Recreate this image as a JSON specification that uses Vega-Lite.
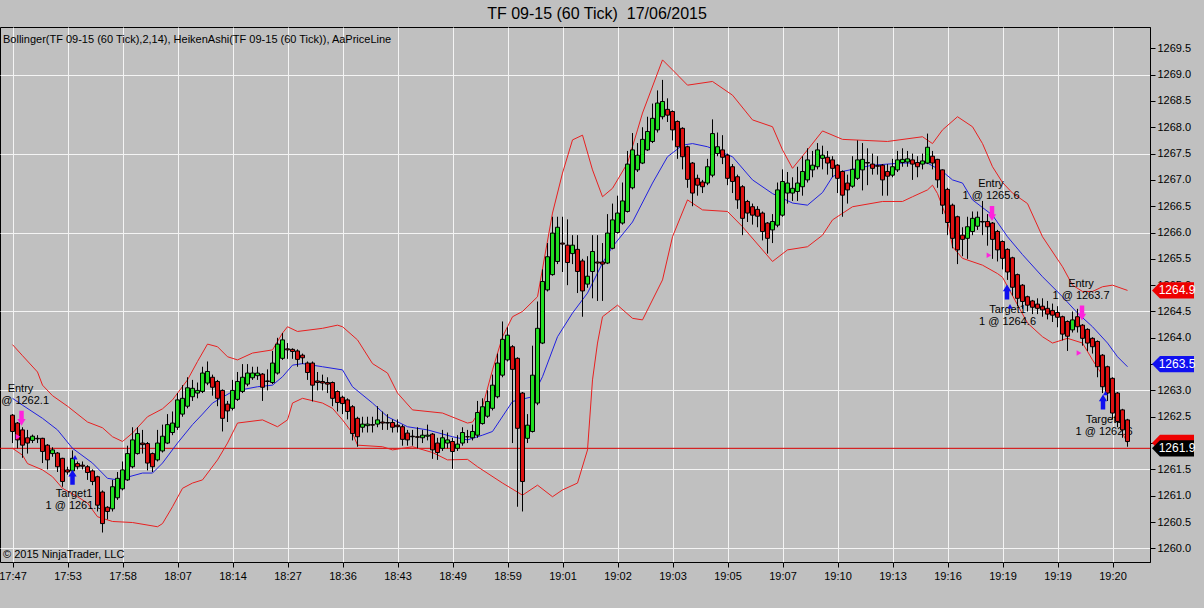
{
  "$schema": "https://vega.github.io/schema/vega-lite/v6.json",
  "autosize": {"type": "none"},
  "width": 1150,
  "height": 535,
  "padding": {"left": 0, "top": 27, "right": 54, "bottom": 46},
  "background": "#C0C0C0",
  "title": {
    "text": "TF 09-15 (60 Tick)\u00a0 17/06/2015",
    "font": "Liberation Sans", "fontSize": 16, "fontWeight": "normal",
    "color": "black", "dx": 22, "offset": 5
  },
  "datasets": {
    "ha": [
      {"i":0,"o":1262.53,"h":1262.55,"l":1262.0,"c":1262.22},
      {"i":1,"o":1262.38,"h":1262.40,"l":1261.90,"c":1262.06},
      {"i":2,"o":1262.25,"h":1262.30,"l":1261.72,"c":1261.96},
      {"i":3,"o":1262.10,"h":1262.25,"l":1261.80,"c":1262.00},
      {"i":4,"o":1262.05,"h":1262.16,"l":1262.00,"c":1262.13},
      {"i":5,"o":1262.09,"h":1262.15,"l":1262.00,"c":1262.08},
      {"i":6,"o":1262.09,"h":1262.10,"l":1261.62,"c":1261.84},
      {"i":7,"o":1261.96,"h":1261.98,"l":1261.50,"c":1261.68},
      {"i":8,"o":1261.80,"h":1261.92,"l":1261.74,"c":1261.87},
      {"i":9,"o":1261.81,"h":1261.83,"l":1261.45,"c":1261.55},
      {"i":10,"o":1261.71,"h":1261.72,"l":1261.17,"c":1261.27},
      {"i":11,"o":1261.49,"h":1261.55,"l":1261.40,"c":1261.45},
      {"i":12,"o":1261.47,"h":1261.86,"l":1261.45,"c":1261.71},
      {"i":13,"o":1261.61,"h":1261.65,"l":1261.50,"c":1261.55},
      {"i":14,"o":1261.58,"h":1261.65,"l":1261.50,"c":1261.56},
      {"i":15,"o":1261.55,"h":1261.58,"l":1261.30,"c":1261.44},
      {"i":16,"o":1261.47,"h":1261.50,"l":1261.20,"c":1261.27},
      {"i":17,"o":1261.36,"h":1261.38,"l":1260.70,"c":1260.82},
      {"i":18,"o":1261.07,"h":1261.10,"l":1260.30,"c":1260.47},
      {"i":19,"o":1260.78,"h":1260.80,"l":1260.55,"c":1260.70},
      {"i":20,"o":1260.75,"h":1261.30,"l":1260.70,"c":1261.17},
      {"i":21,"o":1260.96,"h":1261.45,"l":1260.92,"c":1261.33},
      {"i":22,"o":1261.13,"h":1261.65,"l":1261.10,"c":1261.49},
      {"i":23,"o":1261.30,"h":1261.95,"l":1261.28,"c":1261.80},
      {"i":24,"o":1261.55,"h":1262.30,"l":1261.52,"c":1262.06},
      {"i":25,"o":1261.80,"h":1262.30,"l":1261.78,"c":1262.18},
      {"i":26,"o":1262.00,"h":1262.25,"l":1261.80,"c":1261.97},
      {"i":27,"o":1261.99,"h":1262.02,"l":1261.48,"c":1261.62},
      {"i":28,"o":1261.80,"h":1261.82,"l":1261.45,"c":1261.55},
      {"i":29,"o":1261.68,"h":1262.25,"l":1261.65,"c":1262.00},
      {"i":30,"o":1261.85,"h":1262.35,"l":1261.82,"c":1262.13},
      {"i":31,"o":1262.00,"h":1262.55,"l":1261.98,"c":1262.35},
      {"i":32,"o":1262.20,"h":1262.60,"l":1262.15,"c":1262.38},
      {"i":33,"o":1262.30,"h":1262.95,"l":1262.25,"c":1262.82},
      {"i":34,"o":1262.55,"h":1263.10,"l":1262.50,"c":1262.85},
      {"i":35,"o":1262.70,"h":1263.25,"l":1262.66,"c":1263.05},
      {"i":36,"o":1262.88,"h":1263.20,"l":1262.80,"c":1263.04},
      {"i":37,"o":1262.95,"h":1263.15,"l":1262.85,"c":1263.00},
      {"i":38,"o":1262.98,"h":1263.45,"l":1262.95,"c":1263.33},
      {"i":39,"o":1263.14,"h":1263.55,"l":1263.10,"c":1263.36},
      {"i":40,"o":1263.25,"h":1263.30,"l":1262.90,"c":1263.06},
      {"i":41,"o":1263.17,"h":1263.20,"l":1262.70,"c":1262.85},
      {"i":42,"o":1263.00,"h":1263.02,"l":1262.22,"c":1262.47},
      {"i":43,"o":1262.74,"h":1262.80,"l":1262.40,"c":1262.61},
      {"i":44,"o":1262.66,"h":1263.20,"l":1262.62,"c":1263.00},
      {"i":45,"o":1262.83,"h":1263.35,"l":1262.80,"c":1263.17},
      {"i":46,"o":1262.98,"h":1263.50,"l":1262.95,"c":1263.25},
      {"i":47,"o":1263.12,"h":1263.50,"l":1263.08,"c":1263.33},
      {"i":48,"o":1263.24,"h":1263.45,"l":1263.20,"c":1263.33},
      {"i":49,"o":1263.28,"h":1263.45,"l":1263.20,"c":1263.33},
      {"i":50,"o":1263.31,"h":1263.33,"l":1262.80,"c":1263.06},
      {"i":51,"o":1263.18,"h":1263.40,"l":1263.00,"c":1263.17},
      {"i":52,"o":1263.15,"h":1263.75,"l":1263.12,"c":1263.52},
      {"i":53,"o":1263.33,"h":1264.00,"l":1263.30,"c":1263.88},
      {"i":54,"o":1263.61,"h":1264.09,"l":1263.58,"c":1263.96},
      {"i":55,"o":1263.79,"h":1263.90,"l":1263.60,"c":1263.77},
      {"i":56,"o":1263.78,"h":1263.80,"l":1263.60,"c":1263.74},
      {"i":57,"o":1263.75,"h":1263.78,"l":1263.45,"c":1263.59},
      {"i":58,"o":1263.67,"h":1263.70,"l":1263.50,"c":1263.62},
      {"i":59,"o":1263.52,"h":1263.55,"l":1263.20,"c":1263.34},
      {"i":60,"o":1263.52,"h":1263.55,"l":1262.79,"c":1263.10},
      {"i":61,"o":1263.18,"h":1263.35,"l":1263.00,"c":1263.15},
      {"i":62,"o":1263.17,"h":1263.30,"l":1263.00,"c":1263.14},
      {"i":63,"o":1263.15,"h":1263.25,"l":1262.95,"c":1263.12},
      {"i":64,"o":1263.15,"h":1263.17,"l":1262.70,"c":1262.85},
      {"i":65,"o":1262.98,"h":1263.00,"l":1262.60,"c":1262.77},
      {"i":66,"o":1262.87,"h":1262.90,"l":1262.55,"c":1262.75},
      {"i":67,"o":1262.82,"h":1262.85,"l":1262.45,"c":1262.60},
      {"i":68,"o":1262.69,"h":1262.72,"l":1262.05,"c":1262.18},
      {"i":69,"o":1262.47,"h":1262.50,"l":1261.93,"c":1262.12},
      {"i":70,"o":1262.30,"h":1262.50,"l":1262.20,"c":1262.36},
      {"i":71,"o":1262.33,"h":1262.50,"l":1262.20,"c":1262.36},
      {"i":72,"o":1262.35,"h":1262.50,"l":1262.20,"c":1262.34},
      {"i":73,"o":1262.36,"h":1262.70,"l":1262.30,"c":1262.44},
      {"i":74,"o":1262.40,"h":1262.60,"l":1262.25,"c":1262.38},
      {"i":75,"o":1262.39,"h":1262.55,"l":1262.25,"c":1262.38},
      {"i":76,"o":1262.39,"h":1262.45,"l":1262.20,"c":1262.30},
      {"i":77,"o":1262.34,"h":1262.45,"l":1262.20,"c":1262.31},
      {"i":78,"o":1262.31,"h":1262.35,"l":1261.95,"c":1262.07},
      {"i":79,"o":1262.19,"h":1262.25,"l":1261.95,"c":1262.06},
      {"i":80,"o":1262.13,"h":1262.25,"l":1261.95,"c":1262.12},
      {"i":81,"o":1262.12,"h":1262.30,"l":1261.90,"c":1262.11},
      {"i":82,"o":1262.10,"h":1262.25,"l":1262.00,"c":1262.15},
      {"i":83,"o":1262.13,"h":1262.35,"l":1262.05,"c":1262.15},
      {"i":84,"o":1262.17,"h":1262.19,"l":1261.70,"c":1261.87},
      {"i":85,"o":1262.00,"h":1262.10,"l":1261.68,"c":1261.82},
      {"i":86,"o":1261.90,"h":1262.25,"l":1261.85,"c":1262.10},
      {"i":87,"o":1262.00,"h":1262.20,"l":1261.90,"c":1262.06},
      {"i":88,"o":1262.03,"h":1262.10,"l":1261.51,"c":1261.84},
      {"i":89,"o":1261.90,"h":1262.15,"l":1261.85,"c":1261.98},
      {"i":90,"o":1262.00,"h":1262.30,"l":1261.95,"c":1262.20},
      {"i":91,"o":1262.12,"h":1262.25,"l":1262.00,"c":1262.12},
      {"i":92,"o":1262.10,"h":1262.35,"l":1262.05,"c":1262.22},
      {"i":93,"o":1262.15,"h":1262.80,"l":1262.10,"c":1262.58},
      {"i":94,"o":1262.37,"h":1262.85,"l":1262.35,"c":1262.69},
      {"i":95,"o":1262.51,"h":1263.00,"l":1262.48,"c":1262.79},
      {"i":96,"o":1262.66,"h":1263.30,"l":1262.62,"c":1263.10},
      {"i":97,"o":1262.88,"h":1263.70,"l":1262.85,"c":1263.52},
      {"i":98,"o":1263.29,"h":1264.31,"l":1263.25,"c":1263.97},
      {"i":99,"o":1263.58,"h":1264.20,"l":1263.55,"c":1264.05},
      {"i":100,"o":1263.83,"h":1263.86,"l":1262.00,"c":1263.40},
      {"i":101,"o":1263.61,"h":1263.63,"l":1260.79,"c":1262.28},
      {"i":102,"o":1262.95,"h":1262.97,"l":1260.70,"c":1261.27},
      {"i":103,"o":1262.09,"h":1262.55,"l":1262.00,"c":1262.34},
      {"i":104,"o":1262.22,"h":1263.85,"l":1262.20,"c":1263.29},
      {"i":105,"o":1262.76,"h":1264.69,"l":1262.72,"c":1264.18},
      {"i":106,"o":1263.90,"h":1265.30,"l":1263.88,"c":1265.07},
      {"i":107,"o":1264.91,"h":1265.80,"l":1264.88,"c":1265.54},
      {"i":108,"o":1265.20,"h":1266.30,"l":1265.18,"c":1265.99},
      {"i":109,"o":1265.45,"h":1266.30,"l":1265.40,"c":1266.10},
      {"i":110,"o":1265.80,"h":1266.30,"l":1265.25,"c":1265.78},
      {"i":111,"o":1265.76,"h":1266.25,"l":1265.00,"c":1265.43},
      {"i":112,"o":1265.60,"h":1265.95,"l":1265.40,"c":1265.76},
      {"i":113,"o":1265.68,"h":1265.95,"l":1264.85,"c":1265.26},
      {"i":114,"o":1265.46,"h":1265.50,"l":1264.40,"c":1264.89},
      {"i":115,"o":1265.02,"h":1265.55,"l":1264.95,"c":1265.17},
      {"i":116,"o":1265.26,"h":1265.95,"l":1264.75,"c":1265.64},
      {"i":117,"o":1265.44,"h":1265.95,"l":1264.70,"c":1265.42},
      {"i":118,"o":1265.44,"h":1265.80,"l":1264.70,"c":1265.40},
      {"i":119,"o":1265.42,"h":1266.35,"l":1265.40,"c":1265.99},
      {"i":120,"o":1265.70,"h":1266.55,"l":1265.68,"c":1266.24},
      {"i":121,"o":1266.00,"h":1266.70,"l":1265.98,"c":1266.37},
      {"i":122,"o":1266.18,"h":1266.95,"l":1266.15,"c":1266.60},
      {"i":123,"o":1266.40,"h":1267.55,"l":1266.38,"c":1267.30},
      {"i":124,"o":1266.85,"h":1267.89,"l":1266.82,"c":1267.57},
      {"i":125,"o":1267.19,"h":1267.70,"l":1267.15,"c":1267.47},
      {"i":126,"o":1267.32,"h":1268.00,"l":1267.30,"c":1267.77},
      {"i":127,"o":1267.57,"h":1268.20,"l":1267.55,"c":1267.92},
      {"i":128,"o":1267.73,"h":1268.45,"l":1267.70,"c":1268.17},
      {"i":129,"o":1267.95,"h":1268.70,"l":1267.90,"c":1268.46},
      {"i":130,"o":1268.20,"h":1268.90,"l":1268.15,"c":1268.49},
      {"i":131,"o":1268.34,"h":1268.55,"l":1268.10,"c":1268.23},
      {"i":132,"o":1268.30,"h":1268.32,"l":1267.75,"c":1267.95},
      {"i":133,"o":1268.11,"h":1268.13,"l":1267.40,"c":1267.63},
      {"i":134,"o":1267.98,"h":1268.00,"l":1267.20,"c":1267.44},
      {"i":135,"o":1267.63,"h":1267.65,"l":1266.85,"c":1267.01},
      {"i":136,"o":1267.32,"h":1267.34,"l":1266.50,"c":1266.75},
      {"i":137,"o":1267.03,"h":1267.10,"l":1266.70,"c":1266.90},
      {"i":138,"o":1266.96,"h":1267.00,"l":1266.75,"c":1266.87},
      {"i":139,"o":1266.94,"h":1267.40,"l":1266.90,"c":1267.25},
      {"i":140,"o":1267.09,"h":1268.15,"l":1267.05,"c":1267.88},
      {"i":141,"o":1267.50,"h":1267.90,"l":1267.45,"c":1267.63},
      {"i":142,"o":1267.57,"h":1267.85,"l":1267.30,"c":1267.43},
      {"i":143,"o":1267.47,"h":1267.50,"l":1266.90,"c":1267.03},
      {"i":144,"o":1267.25,"h":1267.30,"l":1266.75,"c":1266.97},
      {"i":145,"o":1267.06,"h":1267.10,"l":1266.45,"c":1266.62},
      {"i":146,"o":1266.87,"h":1266.90,"l":1265.95,"c":1266.27},
      {"i":147,"o":1266.59,"h":1266.62,"l":1266.20,"c":1266.37},
      {"i":148,"o":1266.49,"h":1266.55,"l":1266.15,"c":1266.33},
      {"i":149,"o":1266.44,"h":1266.50,"l":1266.10,"c":1266.31},
      {"i":150,"o":1266.37,"h":1266.40,"l":1265.85,"c":1266.02},
      {"i":151,"o":1266.18,"h":1266.20,"l":1265.60,"c":1265.89},
      {"i":152,"o":1266.05,"h":1266.35,"l":1265.80,"c":1266.21},
      {"i":153,"o":1266.14,"h":1266.95,"l":1266.10,"c":1266.81},
      {"i":154,"o":1266.33,"h":1267.20,"l":1266.30,"c":1266.97},
      {"i":155,"o":1266.75,"h":1267.15,"l":1266.55,"c":1266.94},
      {"i":156,"o":1266.75,"h":1267.05,"l":1266.60,"c":1266.84},
      {"i":157,"o":1266.78,"h":1267.25,"l":1266.60,"c":1266.94},
      {"i":158,"o":1266.87,"h":1267.45,"l":1266.70,"c":1267.16},
      {"i":159,"o":1267.00,"h":1267.60,"l":1266.95,"c":1267.38},
      {"i":160,"o":1267.19,"h":1267.55,"l":1267.05,"c":1267.28},
      {"i":161,"o":1267.25,"h":1267.70,"l":1267.20,"c":1267.57},
      {"i":162,"o":1267.41,"h":1267.65,"l":1267.20,"c":1267.47},
      {"i":163,"o":1267.43,"h":1267.55,"l":1267.10,"c":1267.32},
      {"i":164,"o":1267.38,"h":1267.45,"l":1267.05,"c":1267.22},
      {"i":165,"o":1267.28,"h":1267.30,"l":1266.75,"c":1267.03},
      {"i":166,"o":1267.16,"h":1267.18,"l":1266.30,"c":1266.71},
      {"i":167,"o":1266.94,"h":1267.10,"l":1266.55,"c":1266.81},
      {"i":168,"o":1266.88,"h":1267.45,"l":1266.85,"c":1267.20},
      {"i":169,"o":1267.03,"h":1267.75,"l":1267.00,"c":1267.38},
      {"i":170,"o":1267.19,"h":1267.70,"l":1266.80,"c":1267.39},
      {"i":171,"o":1267.33,"h":1267.60,"l":1266.90,"c":1267.32},
      {"i":172,"o":1267.30,"h":1267.50,"l":1267.10,"c":1267.22},
      {"i":173,"o":1267.27,"h":1267.45,"l":1267.10,"c":1267.26},
      {"i":174,"o":1267.28,"h":1267.30,"l":1266.70,"c":1267.00},
      {"i":175,"o":1267.16,"h":1267.30,"l":1266.70,"c":1267.07},
      {"i":176,"o":1267.09,"h":1267.40,"l":1267.05,"c":1267.25},
      {"i":177,"o":1267.19,"h":1267.55,"l":1267.15,"c":1267.38},
      {"i":178,"o":1267.33,"h":1267.60,"l":1267.25,"c":1267.39},
      {"i":179,"o":1267.34,"h":1267.55,"l":1267.25,"c":1267.40},
      {"i":180,"o":1267.38,"h":1267.50,"l":1267.00,"c":1267.30},
      {"i":181,"o":1267.33,"h":1267.45,"l":1267.05,"c":1267.25},
      {"i":182,"o":1267.30,"h":1267.50,"l":1267.20,"c":1267.36},
      {"i":183,"o":1267.32,"h":1267.88,"l":1267.30,"c":1267.62},
      {"i":184,"o":1267.45,"h":1267.55,"l":1267.20,"c":1267.32},
      {"i":185,"o":1267.39,"h":1267.40,"l":1266.85,"c":1267.00},
      {"i":186,"o":1267.19,"h":1267.20,"l":1266.35,"c":1266.52},
      {"i":187,"o":1266.82,"h":1266.85,"l":1265.95,"c":1266.19},
      {"i":188,"o":1266.52,"h":1266.55,"l":1265.70,"c":1265.89},
      {"i":189,"o":1266.30,"h":1266.32,"l":1265.40,"c":1265.67},
      {"i":190,"o":1265.95,"h":1266.10,"l":1265.55,"c":1265.87},
      {"i":191,"o":1265.89,"h":1266.30,"l":1265.50,"c":1266.11},
      {"i":192,"o":1266.02,"h":1266.40,"l":1265.95,"c":1266.27},
      {"i":193,"o":1266.12,"h":1266.40,"l":1266.05,"c":1266.29},
      {"i":194,"o":1266.21,"h":1266.60,"l":1265.95,"c":1266.20},
      {"i":195,"o":1266.21,"h":1266.35,"l":1265.75,"c":1266.11},
      {"i":196,"o":1266.18,"h":1266.20,"l":1265.50,"c":1265.87},
      {"i":197,"o":1266.02,"h":1266.05,"l":1265.45,"c":1265.67},
      {"i":198,"o":1265.83,"h":1265.85,"l":1265.30,"c":1265.51},
      {"i":199,"o":1265.68,"h":1265.70,"l":1265.10,"c":1265.25},
      {"i":200,"o":1265.52,"h":1265.54,"l":1264.80,"c":1264.96},
      {"i":201,"o":1265.20,"h":1265.22,"l":1264.60,"c":1264.75},
      {"i":202,"o":1265.00,"h":1265.02,"l":1264.55,"c":1264.69},
      {"i":203,"o":1264.78,"h":1264.80,"l":1264.50,"c":1264.62},
      {"i":204,"o":1264.70,"h":1264.72,"l":1264.45,"c":1264.58},
      {"i":205,"o":1264.64,"h":1264.75,"l":1264.45,"c":1264.56},
      {"i":206,"o":1264.60,"h":1264.75,"l":1264.40,"c":1264.53},
      {"i":207,"o":1264.56,"h":1264.70,"l":1264.35,"c":1264.45},
      {"i":208,"o":1264.52,"h":1264.65,"l":1264.30,"c":1264.43},
      {"i":209,"o":1264.48,"h":1264.60,"l":1264.20,"c":1264.39},
      {"i":210,"o":1264.40,"h":1264.42,"l":1263.95,"c":1264.07},
      {"i":211,"o":1264.31,"h":1264.33,"l":1263.75,"c":1264.03},
      {"i":212,"o":1264.15,"h":1264.50,"l":1264.10,"c":1264.34},
      {"i":213,"o":1264.40,"h":1264.55,"l":1264.10,"c":1264.21},
      {"i":214,"o":1264.24,"h":1264.26,"l":1263.85,"c":1263.99},
      {"i":215,"o":1264.16,"h":1264.18,"l":1263.75,"c":1263.90},
      {"i":216,"o":1263.99,"h":1264.01,"l":1263.70,"c":1263.83},
      {"i":217,"o":1263.93,"h":1263.95,"l":1263.25,"c":1263.45},
      {"i":218,"o":1263.67,"h":1263.69,"l":1262.95,"c":1263.07},
      {"i":219,"o":1263.45,"h":1263.47,"l":1262.80,"c":1262.95},
      {"i":220,"o":1263.23,"h":1263.25,"l":1262.45,"c":1262.57},
      {"i":221,"o":1262.95,"h":1262.97,"l":1262.30,"c":1262.41},
      {"i":222,"o":1262.63,"h":1262.65,"l":1262.10,"c":1262.25},
      {"i":223,"o":1262.44,"h":1262.46,"l":1261.93,"c":1262.03}
    ],
    "bb": [
      {"b":"u","i":0,"v":1263.87},{"b":"u","i":2,"v":1263.66},{"b":"u","i":5,"v":1263.35},{"b":"u","i":6,"v":1263.10},
      {"b":"u","i":8,"v":1262.90},{"b":"u","i":11,"v":1262.70},{"b":"u","i":15,"v":1262.40},{"b":"u","i":18,"v":1262.29},
      {"b":"u","i":20,"v":1262.12},{"b":"u","i":22,"v":1262.03},{"b":"u","i":24,"v":1262.19},{"b":"u","i":27,"v":1262.50},
      {"b":"u","i":30,"v":1262.65},{"b":"u","i":32,"v":1262.82},{"b":"u","i":35,"v":1263.20},{"b":"u","i":37,"v":1263.55},
      {"b":"u","i":39,"v":1263.88},{"b":"u","i":41,"v":1263.83},{"b":"u","i":43,"v":1263.64},{"b":"u","i":45,"v":1263.58},
      {"b":"u","i":48,"v":1263.71},{"b":"u","i":52,"v":1263.77},{"b":"u","i":54,"v":1264.09},{"b":"u","i":55,"v":1264.21},
      {"b":"u","i":57,"v":1264.12},{"b":"u","i":62,"v":1264.18},{"b":"u","i":65,"v":1264.24},{"b":"u","i":66,"v":1264.21},
      {"b":"u","i":69,"v":1263.96},{"b":"u","i":72,"v":1263.51},{"b":"u","i":75,"v":1263.33},{"b":"u","i":77,"v":1262.95},
      {"b":"u","i":80,"v":1262.63},{"b":"u","i":86,"v":1262.57},{"b":"u","i":91,"v":1262.38},{"b":"u","i":92,"v":1262.40},
      {"b":"u","i":94,"v":1262.69},{"b":"u","i":96,"v":1263.39},{"b":"u","i":98,"v":1264.02},{"b":"u","i":100,"v":1264.40},
      {"b":"u","i":102,"v":1264.50},{"b":"u","i":105,"v":1264.78},{"b":"u","i":108,"v":1266.37},{"b":"u","i":110,"v":1267.13},
      {"b":"u","i":112,"v":1267.76},{"b":"u","i":114,"v":1267.85},{"b":"u","i":116,"v":1267.19},{"b":"u","i":118,"v":1266.68},
      {"b":"u","i":120,"v":1266.84},{"b":"u","i":123,"v":1267.32},{"b":"u","i":125,"v":1267.95},{"b":"u","i":126,"v":1268.27},
      {"b":"u","i":130,"v":1269.28},{"b":"u","i":132,"v":1269.09},{"b":"u","i":135,"v":1268.80},{"b":"u","i":140,"v":1268.87},
      {"b":"u","i":144,"v":1268.61},{"b":"u","i":148,"v":1268.14},{"b":"u","i":152,"v":1268.01},{"b":"u","i":154,"v":1267.57},
      {"b":"u","i":156,"v":1267.22},{"b":"u","i":159,"v":1267.57},{"b":"u","i":162,"v":1267.93},{"b":"u","i":166,"v":1267.77},
      {"b":"u","i":175,"v":1267.73},{"b":"u","i":182,"v":1267.82},{"b":"u","i":184,"v":1267.69},{"b":"u","i":186,"v":1267.95},
      {"b":"u","i":189,"v":1268.20},{"b":"u","i":192,"v":1268.01},{"b":"u","i":194,"v":1267.69},{"b":"u","i":196,"v":1267.25},
      {"b":"u","i":198,"v":1266.95},{"b":"u","i":200,"v":1266.75},{"b":"u","i":203,"v":1266.55},{"b":"u","i":206,"v":1265.92},
      {"b":"u","i":210,"v":1265.35},{"b":"u","i":212,"v":1265.00},{"b":"u","i":214,"v":1264.88},{"b":"u","i":216,"v":1264.88},
      {"b":"u","i":218,"v":1264.97},{"b":"u","i":220,"v":1265.00},{"b":"u","i":223,"v":1264.90},
      {"b":"m","i":0,"v":1262.85},{"b":"m","i":2,"v":1262.72},{"b":"m","i":6,"v":1262.47},{"b":"m","i":9,"v":1262.25},
      {"b":"m","i":12,"v":1261.90},{"b":"m","i":16,"v":1261.62},{"b":"m","i":19,"v":1261.33},{"b":"m","i":21,"v":1261.30},
      {"b":"m","i":26,"v":1261.43},{"b":"m","i":28,"v":1261.43},{"b":"m","i":30,"v":1261.62},{"b":"m","i":33,"v":1262.00},
      {"b":"m","i":36,"v":1262.35},{"b":"m","i":38,"v":1262.55},{"b":"m","i":40,"v":1262.76},{"b":"m","i":44,"v":1262.98},
      {"b":"m","i":49,"v":1263.07},{"b":"m","i":52,"v":1263.10},{"b":"m","i":54,"v":1263.26},{"b":"m","i":56,"v":1263.48},
      {"b":"m","i":58,"v":1263.51},{"b":"m","i":62,"v":1263.45},{"b":"m","i":66,"v":1263.39},{"b":"m","i":68,"v":1263.07},
      {"b":"m","i":72,"v":1262.76},{"b":"m","i":75,"v":1262.50},{"b":"m","i":79,"v":1262.31},{"b":"m","i":83,"v":1262.25},
      {"b":"m","i":88,"v":1262.12},{"b":"m","i":91,"v":1262.06},{"b":"m","i":94,"v":1262.15},{"b":"m","i":96,"v":1262.22},
      {"b":"m","i":100,"v":1262.79},{"b":"m","i":104,"v":1262.88},{"b":"m","i":106,"v":1263.26},{"b":"m","i":109,"v":1264.02},
      {"b":"m","i":112,"v":1264.47},{"b":"m","i":115,"v":1264.85},{"b":"m","i":118,"v":1265.42},{"b":"m","i":120,"v":1265.73},
      {"b":"m","i":124,"v":1266.20},{"b":"m","i":128,"v":1266.94},{"b":"m","i":131,"v":1267.44},{"b":"m","i":134,"v":1267.66},
      {"b":"m","i":136,"v":1267.69},{"b":"m","i":139,"v":1267.63},{"b":"m","i":144,"v":1267.44},{"b":"m","i":148,"v":1267.00},
      {"b":"m","i":152,"v":1266.74},{"b":"m","i":156,"v":1266.56},{"b":"m","i":159,"v":1266.52},{"b":"m","i":162,"v":1266.76},
      {"b":"m","i":164,"v":1267.06},{"b":"m","i":166,"v":1267.16},{"b":"m","i":172,"v":1267.28},{"b":"m","i":178,"v":1267.32},
      {"b":"m","i":183,"v":1267.32},{"b":"m","i":186,"v":1267.16},{"b":"m","i":188,"v":1267.00},{"b":"m","i":190,"v":1266.94},
      {"b":"m","i":192,"v":1266.62},{"b":"m","i":196,"v":1266.33},{"b":"m","i":199,"v":1265.92},{"b":"m","i":202,"v":1265.58},
      {"b":"m","i":206,"v":1265.16},{"b":"m","i":210,"v":1264.78},{"b":"m","i":213,"v":1264.47},{"b":"m","i":216,"v":1264.21},
      {"b":"m","i":219,"v":1263.90},{"b":"m","i":221,"v":1263.64},{"b":"m","i":223,"v":1263.45},
      {"b":"d","i":0,"v":1261.90},{"b":"d","i":2,"v":1261.77},{"b":"d","i":3,"v":1261.61},{"b":"d","i":6,"v":1261.49},
      {"b":"d","i":8,"v":1261.36},{"b":"d","i":10,"v":1261.14},{"b":"d","i":13,"v":1260.98},{"b":"d","i":15,"v":1260.86},
      {"b":"d","i":17,"v":1260.60},{"b":"d","i":20,"v":1260.51},{"b":"d","i":24,"v":1260.49},{"b":"d","i":29,"v":1260.41},
      {"b":"d","i":30,"v":1260.47},{"b":"d","i":32,"v":1260.79},{"b":"d","i":34,"v":1261.14},{"b":"d","i":36,"v":1261.24},
      {"b":"d","i":38,"v":1261.30},{"b":"d","i":41,"v":1261.68},{"b":"d","i":43,"v":1262.00},{"b":"d","i":45,"v":1262.38},
      {"b":"d","i":50,"v":1262.44},{"b":"d","i":53,"v":1262.31},{"b":"d","i":55,"v":1262.44},{"b":"d","i":56,"v":1262.76},
      {"b":"d","i":58,"v":1262.85},{"b":"d","i":62,"v":1262.76},{"b":"d","i":64,"v":1262.66},{"b":"d","i":66,"v":1262.44},
      {"b":"d","i":68,"v":1262.19},{"b":"d","i":69,"v":1261.96},{"b":"d","i":74,"v":1261.93},{"b":"d","i":76,"v":1261.87},
      {"b":"d","i":80,"v":1261.93},{"b":"d","i":84,"v":1261.82},{"b":"d","i":87,"v":1261.68},{"b":"d","i":91,"v":1261.69},
      {"b":"d","i":93,"v":1261.55},{"b":"d","i":98,"v":1261.24},{"b":"d","i":102,"v":1261.01},{"b":"d","i":105,"v":1261.20},
      {"b":"d","i":108,"v":1260.98},{"b":"d","i":110,"v":1261.11},{"b":"d","i":113,"v":1261.24},{"b":"d","i":115,"v":1261.87},
      {"b":"d","i":116,"v":1263.20},{"b":"d","i":117,"v":1263.90},{"b":"d","i":118,"v":1264.40},{"b":"d","i":121,"v":1264.62},
      {"b":"d","i":124,"v":1264.37},{"b":"d","i":126,"v":1264.34},{"b":"d","i":130,"v":1265.10},{"b":"d","i":132,"v":1265.92},
      {"b":"d","i":135,"v":1266.62},{"b":"d","i":138,"v":1266.43},{"b":"d","i":143,"v":1266.40},{"b":"d","i":146,"v":1266.11},
      {"b":"d","i":150,"v":1265.67},{"b":"d","i":152,"v":1265.45},{"b":"d","i":155,"v":1265.67},{"b":"d","i":159,"v":1265.73},
      {"b":"d","i":162,"v":1265.95},{"b":"d","i":164,"v":1266.24},{"b":"d","i":168,"v":1266.49},{"b":"d","i":174,"v":1266.59},
      {"b":"d","i":178,"v":1266.59},{"b":"d","i":180,"v":1266.68},{"b":"d","i":183,"v":1266.81},{"b":"d","i":184,"v":1266.90},
      {"b":"d","i":185,"v":1266.74},{"b":"d","i":187,"v":1266.24},{"b":"d","i":188,"v":1265.73},{"b":"d","i":190,"v":1265.51},
      {"b":"d","i":194,"v":1265.38},{"b":"d","i":197,"v":1265.22},{"b":"d","i":198,"v":1265.15},{"b":"d","i":200,"v":1264.80},
      {"b":"d","i":203,"v":1264.28},{"b":"d","i":206,"v":1264.02},{"b":"d","i":208,"v":1263.90},{"b":"d","i":211,"v":1263.99},
      {"b":"d","i":214,"v":1263.90},{"b":"d","i":216,"v":1263.58},{"b":"d","i":219,"v":1263.14},{"b":"d","i":221,"v":1262.63},
      {"b":"d","i":222,"v":1262.19},{"b":"d","i":223,"v":1262.00}
    ],
    "notes": [
      {"i":1.6,"p":1263.03,"t":"Entry"},{"i":1.6,"p":1262.80,"t":"1 @ 1262.1"},
      {"i":12.3,"p":1261.03,"t":"Target1"},{"i":12.3,"p":1260.80,"t":"1 @ 1261.6"},
      {"i":195.7,"p":1266.92,"t":"Entry"},{"i":195.7,"p":1266.70,"t":"1 @ 1265.6"},
      {"i":199.0,"p":1264.53,"t":"Target1"},{"i":199.0,"p":1264.30,"t":"1 @ 1264.6"},
      {"i":213.7,"p":1265.02,"t":"Entry"},{"i":213.7,"p":1264.79,"t":"1 @ 1263.7"},
      {"i":218.3,"p":1262.44,"t":"Target1"},{"i":218.3,"p":1262.21,"t":"1 @ 1262.6"}
    ],
    "marks": [
      {"k":"entry","i":1.8,"p":1262.47},{"k":"entry","i":195.9,"p":1266.36},{"k":"entry","i":213.9,"p":1264.47},
      {"k":"target","i":12.0,"p":1261.35},{"k":"target","i":198.9,"p":1264.87},{"k":"target","i":218.1,"p":1262.78},
      {"k":"fill","i":1.1,"p":1262.12},{"k":"fill","i":195.3,"p":1265.57},{"k":"fill","i":213.3,"p":1263.71},
      {"k":"tick","i":12.5,"p":1261.73},{"k":"tick","i":199.5,"p":1264.60},{"k":"tick","i":218.6,"p":1262.95}
    ],
    "tags": [
      {"k":"u","p":1264.9,"t":"1264.9"},
      {"k":"m","p":1263.5,"t":"1263.5"},
      {"k":"d","p":1262.0,"t":""},
      {"k":"last","p":1261.9,"t":"1261.9"}
    ],
    "heads": [
      {"p":1269.66,"t":"Bollinger(TF 09-15 (60 Tick),2,14), HeikenAshi(TF 09-15 (60 Tick)), AaPriceLine"},
      {"p":1259.87,"t":"© 2015 NinjaTrader, LLC"}
    ]
  },
  "resolve": {"axis": {"x": "independent", "y": "independent"}},
  "layer": [
    {
      "data": {"values": [{}]},
      "mark": {"type": "rule", "color": "#D80000", "strokeWidth": 1},
      "encoding": {
        "y": {"datum": 1261.9, "type": "quantitative", "scale": {"domain": [1259.74, 1269.905], "nice": false, "zero": false}, "axis": null}
      }
    },
    {
      "data": {"name": "bb"},
      "transform": [{"filter": "datum.b == 'u'"}],
      "mark": {"type": "line", "color": "#E82020", "strokeWidth": 1},
      "encoding": {
        "x": {"field": "i", "type": "quantitative", "scale": {"domain": [-2.5, 227.5], "nice": false, "zero": false, "padding": 0}, "axis": null},
        "y": {"field": "v", "type": "quantitative", "scale": {"domain": [1259.74, 1269.905], "nice": false, "zero": false}, "axis": null}
      }
    },
    {
      "data": {"name": "bb"},
      "transform": [{"filter": "datum.b == 'd'"}],
      "mark": {"type": "line", "color": "#E82020", "strokeWidth": 1},
      "encoding": {
        "x": {"field": "i", "type": "quantitative", "scale": {"domain": [-2.5, 227.5], "nice": false, "zero": false, "padding": 0}, "axis": null},
        "y": {"field": "v", "type": "quantitative", "scale": {"domain": [1259.74, 1269.905], "nice": false, "zero": false}, "axis": null}
      }
    },
    {
      "data": {"name": "bb"},
      "transform": [{"filter": "datum.b == 'm'"}],
      "mark": {"type": "line", "color": "#2020E0", "strokeWidth": 1},
      "encoding": {
        "x": {"field": "i", "type": "quantitative", "scale": {"domain": [-2.5, 227.5], "nice": false, "zero": false, "padding": 0}, "axis": null},
        "y": {"field": "v", "type": "quantitative", "scale": {"domain": [1259.74, 1269.905], "nice": false, "zero": false}, "axis": null}
      }
    },
    {
      "data": {"name": "notes"},
      "mark": {"type": "text", "font": "Liberation Sans", "fontSize": 11, "color": "black", "align": "center", "baseline": "middle"},
      "encoding": {
        "x": {"field": "i", "type": "quantitative", "scale": {"domain": [-2.5, 227.5], "nice": false, "zero": false, "padding": 0}, "axis": null},
        "y": {"field": "p", "type": "quantitative", "scale": {"domain": [1259.74, 1269.905], "nice": false, "zero": false}, "axis": null},
        "text": {"field": "t"}
      }
    },
    {
      "data": {"name": "ha"},
      "mark": {"type": "rule", "color": "black", "strokeWidth": 1},
      "encoding": {
        "x": {"field": "i", "type": "quantitative", "scale": {"domain": [-2.5, 227.5], "nice": false, "zero": false, "padding": 0}, "axis": null},
        "y": {"field": "l", "type": "quantitative", "scale": {"domain": [1259.74, 1269.905], "nice": false, "zero": false}, "axis": null},
        "y2": {"field": "h"}
      }
    },
    {
      "data": {"name": "ha"},
      "mark": {"type": "bar", "width": 4, "stroke": "black", "strokeWidth": 1},
      "encoding": {
        "x": {
          "field": "i", "type": "quantitative",
          "scale": {"domain": [-2.5, 227.5], "nice": false, "zero": false, "padding": 0},
          "axis": {
            "title": null,
            "values": [0, 11, 22, 33, 44, 55, 66, 77, 88, 99, 110, 121, 132, 143, 154, 165, 176, 187, 198, 209, 220],
            "labelExpr": "['17:47','17:53','17:58','18:07','18:14','18:27','18:36','18:43','18:49','18:59','19:01','19:02','19:03','19:05','19:07','19:10','19:13','19:16','19:19','19:19','19:20'][round(datum.value / 11)]",
            "grid": true, "gridColor": "#F4F4F4", "gridWidth": 1,
            "domain": false, "ticks": true, "tickColor": "black", "tickSize": 5,
            "labelFont": "Liberation Sans", "labelFontSize": 11, "labelColor": "black", "labelPadding": 3,
            "labelFlush": false, "labelOverlap": false, "labelBound": false
          }
        },
        "y": {
          "field": "o", "type": "quantitative",
          "scale": {"domain": [1259.74, 1269.905], "nice": false, "zero": false},
          "axis": {
            "title": null, "orient": "right",
            "values": [1260, 1260.5, 1261, 1261.5, 1262, 1262.5, 1263, 1263.5, 1264, 1264.5, 1265, 1265.5, 1266, 1266.5, 1267, 1267.5, 1268, 1268.5, 1269, 1269.5],
            "format": ".1f",
            "grid": true, "gridColor": "#F4F4F4", "gridWidth": 1,
            "gridOpacity": {"condition": {"test": "abs((datum.value - 1260) % 1.5) < 0.01", "value": 1}, "value": 0},
            "domain": true, "domainColor": "black", "ticks": true, "tickColor": "black", "tickSize": 5,
            "labelFont": "Liberation Sans", "labelFontSize": 11, "labelColor": "black", "labelPadding": 2,
            "labelOverlap": false, "labelFlush": false
          }
        },
        "y2": {"field": "c"},
        "color": {"condition": {"test": "datum.c >= datum.o", "value": "#22DD22"}, "value": "#DD1111"}
      }
    },
    {
      "data": {"name": "marks"},
      "transform": [{"filter": "datum.k == 'entry'"}],
      "mark": {"type": "point", "filled": true, "color": "#FF22DD", "opacity": 1, "size": 225,
               "shape": "M-0.3,-1L0.3,-1L0.3,0.1L0.55,0.1L0,1L-0.55,0.1L-0.3,0.1Z"},
      "encoding": {
        "x": {"field": "i", "type": "quantitative", "scale": {"domain": [-2.5, 227.5], "nice": false, "zero": false, "padding": 0}, "axis": null},
        "y": {"field": "p", "type": "quantitative", "scale": {"domain": [1259.74, 1269.905], "nice": false, "zero": false}, "axis": null}
      }
    },
    {
      "data": {"name": "marks"},
      "transform": [{"filter": "datum.k == 'target'"}],
      "mark": {"type": "point", "filled": true, "color": "#1010F0", "opacity": 1, "size": 225,
               "shape": "M-0.3,1L0.3,1L0.3,-0.1L0.55,-0.1L0,-1L-0.55,-0.1L-0.3,-0.1Z"},
      "encoding": {
        "x": {"field": "i", "type": "quantitative", "scale": {"domain": [-2.5, 227.5], "nice": false, "zero": false, "padding": 0}, "axis": null},
        "y": {"field": "p", "type": "quantitative", "scale": {"domain": [1259.74, 1269.905], "nice": false, "zero": false}, "axis": null}
      }
    },
    {
      "data": {"name": "marks"},
      "transform": [{"filter": "datum.k == 'fill'"}],
      "mark": {"type": "point", "filled": true, "color": "#FF22DD", "opacity": 1, "size": 30, "shape": "triangle-right"},
      "encoding": {
        "x": {"field": "i", "type": "quantitative", "scale": {"domain": [-2.5, 227.5], "nice": false, "zero": false, "padding": 0}, "axis": null},
        "y": {"field": "p", "type": "quantitative", "scale": {"domain": [1259.74, 1269.905], "nice": false, "zero": false}, "axis": null}
      }
    },
    {
      "data": {"name": "marks"},
      "transform": [{"filter": "datum.k == 'tick'"}],
      "mark": {"type": "point", "filled": true, "color": "#1010F0", "opacity": 1, "size": 25, "shape": "triangle-up"},
      "encoding": {
        "x": {"field": "i", "type": "quantitative", "scale": {"domain": [-2.5, 227.5], "nice": false, "zero": false, "padding": 0}, "axis": null},
        "y": {"field": "p", "type": "quantitative", "scale": {"domain": [1259.74, 1269.905], "nice": false, "zero": false}, "axis": null}
      }
    },
    {
      "data": {"name": "tags"},
      "mark": {"type": "point", "filled": true, "opacity": 1, "size": 1764,
               "shape": "M-1,0L-0.62,-0.39L1,-0.39L1,0.39L-0.62,0.39Z"},
      "encoding": {
        "x": {"datum": 232.1, "type": "quantitative", "scale": {"domain": [-2.5, 227.5], "nice": false, "zero": false, "padding": 0}, "axis": null},
        "y": {"field": "p", "type": "quantitative", "scale": {"domain": [1259.74, 1269.905], "nice": false, "zero": false}, "axis": null},
        "color": {"condition": [{"test": "datum.k == 'm'", "value": "#1010F0"}, {"test": "datum.k == 'last'", "value": "black"}], "value": "#EE0000"}
      }
    },
    {
      "data": {"name": "tags"},
      "mark": {"type": "text", "font": "Liberation Sans", "fontSize": 12, "color": "white", "align": "center", "baseline": "middle"},
      "encoding": {
        "x": {"datum": 232.9, "type": "quantitative", "scale": {"domain": [-2.5, 227.5], "nice": false, "zero": false, "padding": 0}, "axis": null},
        "y": {"field": "p", "type": "quantitative", "scale": {"domain": [1259.74, 1269.905], "nice": false, "zero": false}, "axis": null},
        "text": {"field": "t"}
      }
    },
    {
      "data": {"name": "heads"},
      "mark": {"type": "text", "font": "Liberation Sans", "fontSize": 11, "color": "black", "align": "left", "baseline": "middle", "dx": 3},
      "encoding": {
        "x": {"datum": -2.5, "type": "quantitative", "scale": {"domain": [-2.5, 227.5], "nice": false, "zero": false, "padding": 0}, "axis": null},
        "y": {"field": "p", "type": "quantitative", "scale": {"domain": [1259.74, 1269.905], "nice": false, "zero": false}, "axis": null},
        "text": {"field": "t"}
      }
    }
  ],
  "config": {
    "view": {"stroke": "black", "strokeWidth": 1, "fill": "#C0C0C0"},
    "text": {"font": "Liberation Sans"}
  }
}
